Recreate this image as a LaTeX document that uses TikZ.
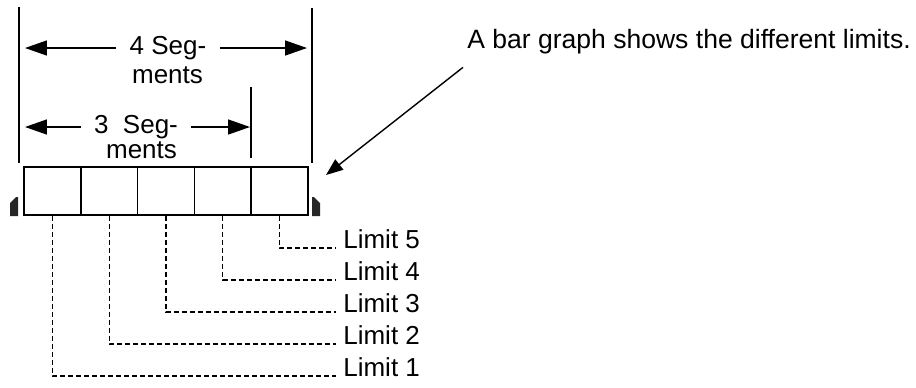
\documentclass[tikz,border=0pt]{standalone}
\usepackage{fontspec}
\setmainfont{Liberation Sans}
\usepackage{tikz}
\usetikzlibrary{arrows.meta, positioning}

\tikzset{
  segbox/.style={draw, line width=0.95pt, minimum width=1.136cm, minimum height=0.96cm, inner sep=0pt},
  extline/.style={line width=0.85pt},
  dimarrow/.style={line width=0.85pt, -{Triangle[length=0.44cm, width=0.3cm]}},
  notearrow/.style={line width=0.8pt, -{Triangle[length=0.34cm, width=0.26cm]}},
  leader/.style={line width=0.65pt, dash pattern=on 0.1cm off 0.06cm},
  dimlabel/.style={inner xsep=0.26cm, inner ysep=0pt},
  limitlabel/.style={anchor=base west, inner xsep=0.14cm, inner ysep=0pt},
  marker/.style={fill=black!85}
}

\begin{document}
\begin{tikzpicture}[x=0.02cm, y=-0.02cm, font=\fontsize{14.8}{17}\selectfont]
\useasboundingbox (0,0) rectangle (916,387);

% Bar graph
\foreach \i in {1,...,5}
  \node[segbox] (s\i) at ({24+56.8*(\i-0.5)},191) {};
\fill[marker] (10,216) -- (10,203) -- (16,197) -- (18,197) -- (18,216) -- cycle;
\fill[marker] (320,216) -- (320,203) -- (314,197) -- (312,197) -- (312,216) -- cycle;

% Extension lines
\draw[extline] (19,7) -- (19,163);
\draw[extline] (312,8) -- (312,163);
\draw[extline] (251,87) -- (251,158);

% 4 segments
\coordinate (a4l) at (25,48);
\coordinate (a4r) at (307,48);
\node[dimlabel] (seg4a) at (168,48) {4 Seg-};
\node[dimlabel] (seg4b) at (167.5,75) {ments};
\draw[dimarrow] (seg4a) -- (a4l);
\draw[dimarrow] (seg4a) -- (a4r);

% 3 segments
\coordinate (a3l) at (25,127);
\coordinate (a3r) at (250,127);
\node[dimlabel] (seg3a) at (136,127) {3~~Seg-};
\node[dimlabel] (seg3b) at (141.5,150) {ments};
\draw[dimarrow] (seg3a) -- (a3l);
\draw[dimarrow] (seg3a) -- (a3r);

% Note
\node[anchor=base west, inner sep=0pt, font=\fontsize{15.1}{17}\selectfont] (note) at (467,48) {A bar graph shows the different limits.};
\coordinate (tip) at (326,175);
\draw[notearrow] ([shift={(-4,13.5)}]note.south west) -- (tip);

% Limits
\foreach \i/\y in {1/376,2/344,3/312,4/280,5/248} {
  \node[limitlabel] (l\i) at (336,\y) {Limit \i};
  \draw[leader] (s\i.south) |- (l\i.base west);
}
\end{tikzpicture}
\end{document}
